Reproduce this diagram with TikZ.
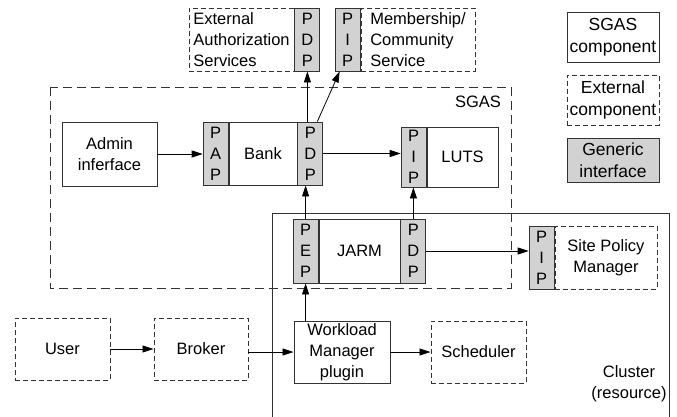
\documentclass[tikz,border=0pt]{standalone}
\usepackage{fontspec}
\setmainfont{Liberation Sans}
\usetikzlibrary{positioning,arrows.meta}

\begin{document}
\begin{tikzpicture}[x=1pt, y=-1pt, line width=0.9pt,
  every node/.style = {align=center, inner sep=0pt,
    font=\fontsize{16.5}{21}\selectfont},
  comp/.style = {draw=black!80, fill=white, minimum width=#1},
  extcomp/.style = {comp=#1, dash pattern=on 5pt off 3pt},
  iface/.style = {draw=black!80, fill=gray!35, minimum width=25pt},
  legend/.style = {minimum width=92pt, font=\fontsize{17.5}{22}\selectfont},
  flow/.style = {-{Triangle[length=11pt,width=7pt]}, line width=0.8pt}]

  \useasboundingbox (0,0) rectangle (677,417);

  \draw[black!80, dash pattern=on 9pt off 5pt] (50,87) rectangle (511,288);
  \node (sgaslabel) at (478,102) {SGAS};
  \draw[black!80] (272,417) |- (669,213) -- (669,417);
  \node (clusterlabel) at (629,384) {Cluster\\(resource)};

  \node[extcomp=105pt, minimum height=63pt, align=left] (extauth) at (241.5,39.5)
    {External\\Authorization\\Services};
  \node[iface, minimum height=63pt, right=0pt of extauth] (extpdp) {P\\D\\P};
  \node[extcomp=114pt, minimum height=63pt, align=left] (member) at (418,39.5)
    {Membership/\\Community\\Service};
  \node[iface, minimum height=63pt, left=0pt of member] (memberpip) {P\\I\\P};

  \node[comp=95pt, minimum height=64pt] (admin) at (109.5,154) {Admin\\inferface};
  \node[comp=68pt, minimum height=63pt] (bank) at (263,153.5) {Bank};
  \node[iface, minimum height=63pt, left=0pt of bank] (bankpap) {P\\A\\P};
  \node[iface, minimum height=63pt, right=0pt of bank] (bankpdp) {P\\D\\P};
  \node[comp=71pt, minimum height=60pt] (luts) at (462.5,157) {LUTS};
  \node[iface, minimum height=60pt, left=0pt of luts] (lutspip) {P\\I\\P};

  \node[comp=81pt, minimum height=64pt] (jarm) at (359.5,251) {JARM};
  \node[iface, minimum height=64pt, left=0pt of jarm] (jarmpep) {P\\E\\P};
  \node[iface, minimum height=64pt, right=0pt of jarm] (jarmpdp) {P\\D\\P};
  \node[extcomp=102pt, minimum height=63pt] (sitepm) at (606,257.5) {Site Policy\\Manager};
  \node[iface, minimum height=63pt, left=0pt of sitepm] (sitepip) {P\\I\\P};

  \node[extcomp=95pt, minimum height=62pt] (user) at (62.5,349) {User};
  \node[extcomp=94pt, minimum height=62pt] (broker) at (201,349) {Broker};
  \node[comp=96pt, minimum height=62pt] (wlm) at (342,352) {Workload\\Manager\\plugin};
  \node[extcomp=95pt, minimum height=62pt] (sched) at (478.5,352) {Scheduler};

  \node[comp=92pt, legend, minimum height=50pt] (legsgas) at (613,37) {SGAS\\component};
  \node[extcomp=92pt, legend, minimum height=50pt] (legext) at (613,100) {External\\component};
  \node[iface, legend, minimum height=44pt] (legiface) at (613,160) {Generic\\interface};

  \draw[flow] (user) -- (broker);
  \draw[flow] (broker.east |- wlm) -- (wlm);
  \draw[flow] (wlm) -- (sched);
  \draw[flow] (jarmpep.south |- wlm.north) -- (jarmpep.south);
  \draw[flow] (jarmpep.north) -- (jarmpep.north |- bankpdp.south);
  \draw[flow] (jarmpdp.north) -- (jarmpdp.north |- lutspip.south);
  \draw[flow] (jarmpdp.east) -- (jarmpdp.east -| sitepip.west);
  \draw[flow] (admin.east) -- (admin.east -| bankpap.west);
  \draw[flow] (bankpdp.east) -- (bankpdp.east -| lutspip.west);
  \draw[flow] (extpdp.south |- bankpdp.north) -- (extpdp.south);
  \draw[flow] ([xshift=-6pt]bankpdp.north east) -- ([xshift=5pt]memberpip.south west);
\end{tikzpicture}
\end{document}
